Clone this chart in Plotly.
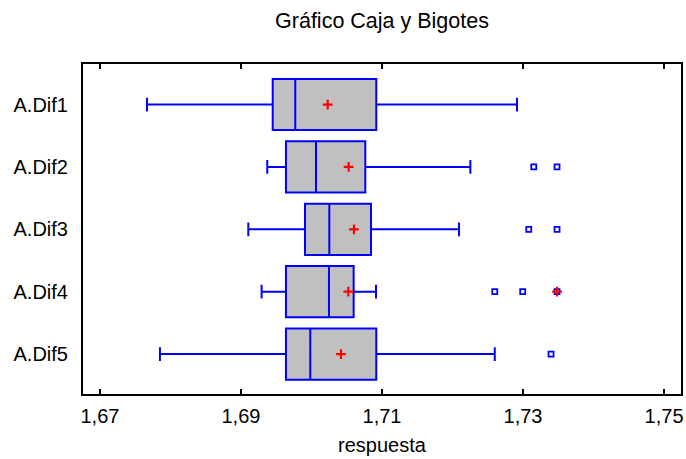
import plotly.graph_objects as go

categories = ["A.Dif1", "A.Dif2", "A.Dif3", "A.Dif4", "A.Dif5"]
lower_whisker = [1.67667, 1.69373, 1.69104, 1.69293, 1.67851]
q1_vals = [1.69450, 1.69638, 1.69908, 1.69638, 1.69638]
median_vals = [1.69770, 1.70064, 1.70253, 1.70248, 1.69983]
q3_vals = [1.70919, 1.70763, 1.70844, 1.70598, 1.70919]
upper_whisker = [1.72915, 1.72253, 1.72092, 1.70915, 1.72599]
mean_vals = [1.70230, 1.70527, 1.70603, 1.70522, 1.70418]

outlier_cat = ["A.Dif2", "A.Dif2", "A.Dif3", "A.Dif3", "A.Dif4", "A.Dif4", "A.Dif4", "A.Dif5"]
outlier_val = [1.73152, 1.73482, 1.73081, 1.73482, 1.72599, 1.72995, 1.73482, 1.73397]
far_cat = ["A.Dif4"]
far_val = [1.73482]

x_ticks = [1.67, 1.69, 1.71, 1.73, 1.75]

FONT = "Liberation Sans, Arial, sans-serif"
FS = 20

fig = go.Figure()
fig.add_trace(go.Box(
    y=categories, q1=q1_vals, median=median_vals, q3=q3_vals,
    lowerfence=lower_whisker, upperfence=upper_whisker,
    orientation="h", fillcolor="#C0C0C0",
    line=dict(color="#0000FF", width=2),
    width=0.82, whiskerwidth=0.27, boxpoints=False, showlegend=False,
    hoverinfo="skip",
))
fig.add_trace(go.Scatter(
    x=outlier_val, y=outlier_cat, mode="markers", showlegend=False,
    marker=dict(symbol="square", size=5, color="white",
                line=dict(color="#0000FF", width=1.8)),
))
fig.add_trace(go.Scatter(
    x=mean_vals, y=categories, mode="markers", showlegend=False,
    marker=dict(symbol="cross-thin", size=7,
                line=dict(color="#FF0000", width=2.2)),
))
fig.add_trace(go.Scatter(
    x=far_val, y=far_cat, mode="markers", showlegend=False,
    marker=dict(symbol="cross-thin", size=7,
                line=dict(color="#FF0000", width=2.2)),
))

fig.update_layout(
    width=686, height=459,
    margin=dict(l=83, r=5, t=64, b=65, autoexpand=False),
    paper_bgcolor="white", plot_bgcolor="white",
    separators=",.",
    font=dict(family=FONT, size=FS, color="black"),
    title=dict(text="Gráfico Caja y Bigotes", x=0.5, xanchor="center",
               xref="paper", y=1 - 20 / 459, yanchor="middle",
               font=dict(size=21.5)),
    xaxis=dict(
        range=[1.6676, 1.7524], tickvals=x_ticks, tickformat=".2f",
        ticks="inside", ticklen=5, tickwidth=2, tickcolor="black",
        showline=True, linecolor="black", linewidth=2, mirror="ticks",
        showgrid=False, zeroline=False, automargin=False,
        ticklabelstandoff=3,
        title=dict(text="respuesta", standoff=12, font=dict(size=FS)),
        tickfont=dict(size=FS),
    ),
    yaxis=dict(
        type="category", categoryorder="array", categoryarray=categories,
        range=[4.64, -0.65], showline=True, linecolor="black", linewidth=2,
        mirror=True, showgrid=False, zeroline=False, ticks="",
        automargin=False, ticklabelstandoff=9, tickfont=dict(size=FS),
    ),
)

fig.write_html(
    "out.html",
    config={"displayModeBar": False},
    post_script="document.body.style.margin='0';document.body.style.overflow='hidden';",
)
